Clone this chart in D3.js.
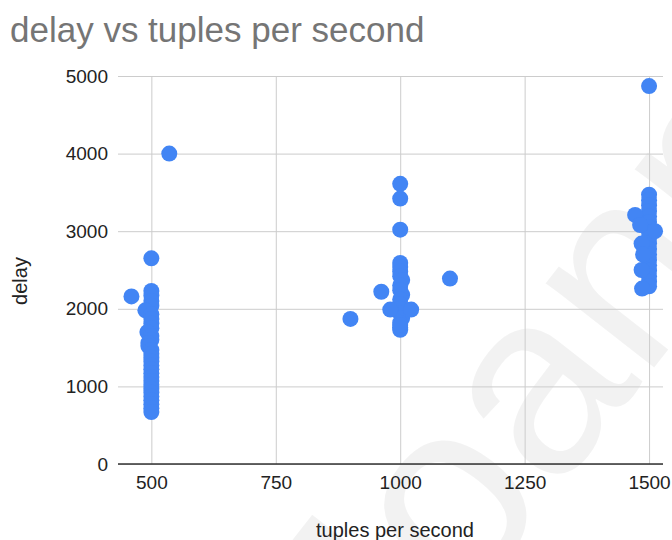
<!DOCTYPE html>
<html><head><meta charset="utf-8">
<script src="https://cdn.jsdelivr.net/npm/d3@7"></script>
<style>
html,body{margin:0;padding:0;background:#fff;}
svg{display:block;font-family:"Liberation Sans",Arial,sans-serif;}
</style></head>
<body>
<svg id="chart" width="672" height="540"></svg>
<script>
// tuples per second (x) and delay (y)
const xValues = [
  460,536,500,
  500,500,500,500,488,500,500,500,500,492,500,500,494,494,500,500,500,500,500,500,500,500,500,500,500,500,500,500,500,500,500,
  1000,1000,1000,1000,1004,1000,1000,1004,1000,1000,1000,1000,1004,1000,1000,1000,1000,
  962,980,1022,900,1100,1000,1000,1000,
  1500,1500,1500,1500,1500,1500,1500,1500,1500,1500,1500,1500,1500,1500,1500,1500,1500,1500,
  1472,1482,1512,1485,1488,1485,1486,1500
];
const yValues = [
  2160,4000,2650,
  2230,2170,2100,2040,1980,1930,1870,1810,1750,1700,1650,1600,1560,1520,1470,1420,1370,1320,1270,1220,1170,1120,1070,1020,970,920,870,820,770,720,670,
  2590,2540,2480,2420,2370,2300,2240,2180,2120,2060,2000,1940,1880,1820,1760,1730,1790,
  2220,1990,1990,1870,2390,3610,3420,3020,
  3470,3400,3330,3260,3190,3120,3050,2980,2910,2840,2770,2700,2630,2560,2490,2420,2350,2290,
  3210,3080,3000,2840,2700,2500,2260,4870
];
const xTicks = [500, 750, 1000, 1250, 1500];
const yTicks = [0, 1000, 2000, 3000, 4000, 5000];
const titleText = "delay vs tuples per second";
const xLabel = "tuples per second";
const yLabel = "delay";
const watermark = "Joanne";

const svg = d3.select("#chart");
const x = d3.scaleLinear().domain([437, 1528]).range([120, 663]);
const y = d3.scaleLinear().domain([0, 5000]).range([464, 76]);

// watermark
svg.append("text")
  .attr("transform", "translate(385,712) rotate(-52)")
  .attr("font-size", 260)
  .attr("fill", "#000").attr("fill-opacity", 0.05)
  .text(watermark);

// horizontal gridlines
const gy = svg.append("g").attr("transform", "translate(118,0)")
  .call(d3.axisRight(y).tickValues(yTicks).tickSize(545).tickFormat(""));
gy.select(".domain").remove();
gy.selectAll("line").attr("stroke", "#cccccc").attr("stroke-width", 1);

// vertical gridlines
const gx = svg.append("g").attr("transform", "translate(0,464)")
  .call(d3.axisTop(x).tickValues(xTicks).tickSize(388).tickFormat(""));
gx.select(".domain").remove();
gx.selectAll("line").attr("stroke", "#cccccc").attr("stroke-width", 1);

// baseline
svg.append("line").attr("x1", 118).attr("x2", 663).attr("y1", y(0)).attr("y2", y(0))
  .attr("stroke", "#333").attr("stroke-width", 1.5);

// x tick labels
const ax = svg.append("g").attr("transform", "translate(0,464)")
  .call(d3.axisBottom(x).tickValues(xTicks).tickSize(0).tickPadding(12).tickFormat(d3.format("d")));
ax.select(".domain").remove();
ax.selectAll("text").attr("font-size", 19).attr("fill", "#222").attr("font-family", "Liberation Sans, Arial, sans-serif");

// y tick labels
const ay = svg.append("g").attr("transform", "translate(118,0)")
  .call(d3.axisLeft(y).tickValues(yTicks).tickSize(0).tickPadding(10).tickFormat(d3.format("d")));
ay.select(".domain").remove();
ay.selectAll("text").attr("font-size", 19).attr("fill", "#222").attr("font-family", "Liberation Sans, Arial, sans-serif");

// points
svg.append("g").selectAll("circle")
  .data(xValues.map((v, i) => [v, yValues[i]]))
  .join("circle")
  .attr("cx", d => x(d[0])).attr("cy", d => y(d[1])).attr("r", 8)
  .attr("fill", "#4285F4");

// title
svg.append("text").attr("x", 10).attr("y", 42).attr("font-size", 35).attr("fill", "#757575").text(titleText);

// axis titles
svg.append("text").attr("x", 395).attr("y", 537).attr("text-anchor", "middle")
  .attr("font-size", 20).attr("fill", "#222").text(xLabel);
svg.append("text").attr("transform", "translate(27,281) rotate(-90)").attr("text-anchor", "middle")
  .attr("font-size", 20).attr("fill", "#222").text(yLabel);
</script>
</body></html>
